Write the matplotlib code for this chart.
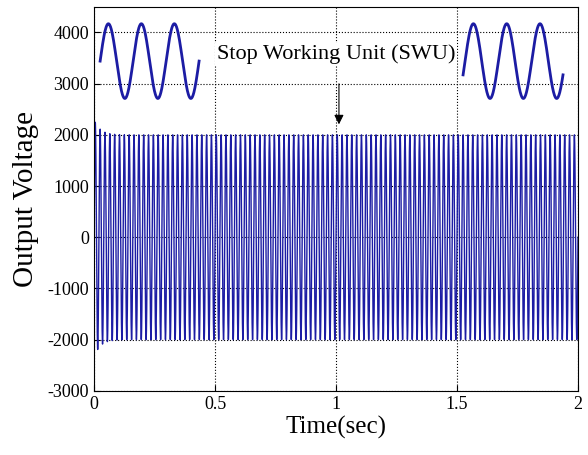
import numpy as np
import matplotlib
matplotlib.use('Agg')
import matplotlib.pyplot as plt

# values
t_end = 2.0                      # seconds shown
freq_hz = 50                     # output frequency (about 100 cycles over 2 s)
amp = 2000                       # steady peak voltage
start_peaks = [2300, -2350]      # overshoot during the first cycle
inset_centre = 3440              # mid level of the two zoom sketches
inset_amp = 730                  # their half swing
inset_left_x = [0.025, 0.434]    # time span of left sketch
inset_right_x = [1.525, 1.938]   # time span of right sketch
inset_right_phase = -0.06        # right sketch starts a little before mid level
inset_cycles = 3
note_text = 'Stop Working Unit (SWU)'
note_xy = [1.0, 3570]
arrow_from = [1.012, 3050]
arrow_to = [1.012, 2150]
x_ticks = [0, 0.5, 1, 1.5, 2]
x_tick_labels = ['0', '0.5', '1', '1.5', '2']
y_ticks = [-3000, -2000, -1000, 0, 1000, 2000, 3000, 4000]

# main waveform
t = np.linspace(0, t_end, 40001)
v = amp * np.sin(2 * np.pi * freq_hz * t)
# short start-up overshoot
boost = np.where(v > 0, start_peaks[0] / amp, -start_peaks[1] / amp)
decay = np.exp(-t / 0.025)
v = v * (1 + (boost - 1) * decay)

plt.rcParams['font.family'] = ['Liberation Serif', 'DejaVu Serif']
plt.rcParams['axes.unicode_minus'] = False
fig = plt.figure(figsize=(5.88, 4.55), dpi=100)
ax = fig.add_axes([0.160, 0.141, 0.823, 0.844])
col = '#1c1ca4'
ax.plot(t, v, color=col, lw=1.0)

# zoomed sketches of a few cycles
ts = np.linspace(0, 1, 400)
ax.plot(inset_left_x[0] + ts * (inset_left_x[1] - inset_left_x[0]),
        inset_centre + inset_amp * np.sin(2 * np.pi * inset_cycles * ts),
        color=col, lw=2.0)
ax.plot(inset_right_x[0] + ts * (inset_right_x[1] - inset_right_x[0]),
        inset_centre + inset_amp * np.sin(2 * np.pi * (inset_cycles * ts + inset_right_phase)),
        color=col, lw=2.0)

ax.text(note_xy[0], note_xy[1], note_text, ha='center', va='center', fontsize=16,
        bbox=dict(facecolor='white', edgecolor='none', pad=1))
ax.annotate('', xy=arrow_to, xytext=arrow_from,
            arrowprops=dict(arrowstyle='-|>', color='black', lw=0.8,
                            mutation_scale=14))

ax.set_xlim(0, t_end)
ax.set_ylim(-3000, 4500)
ax.set_xticks(x_ticks)
ax.set_xticklabels(x_tick_labels)
ax.set_yticks(y_ticks)
ax.tick_params(direction='in', labelsize=13, length=4)
ax.grid(True, linestyle=':', color='black', lw=0.8)
ax.set_xlabel('Time(sec)', fontsize=18, labelpad=2)
ax.set_ylabel('Output Voltage', fontsize=21, labelpad=6)

fig.savefig('out.png', dpi=100)
